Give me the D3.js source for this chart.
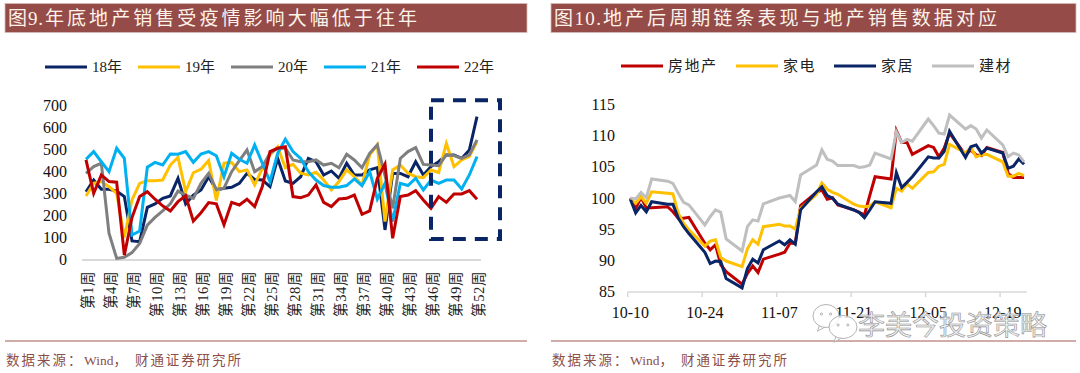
<!DOCTYPE html>
<html>
<head>
<meta charset="utf-8">
<script src="https://cdn.jsdelivr.net/npm/d3@7"></script>
<style>
  html, body { margin: 0; padding: 0; background: #fff; }
  svg { display: block; }
  text { font-family: "Liberation Serif", "Noto Sans CJK SC", serif; }
</style>
</head>
<body>
<svg id="chart" width="1080" height="373"></svg>
<script>
// left panel: weekly sales
const weeks = d3.range(1, 53);
const weekTicks = d3.range(1, 53, 3);
const salesTicks = [0, 100, 200, 300, 400, 500, 600, 700];
const y18 = [307,360,318,318,310,285,84,81,236,252,277,288,368,252,292,315,375,315,323,327,345,390,363,360,330,458,356,345,375,458,443,383,401,368,436,383,383,406,416,134,390,390,375,443,383,421,443,474,474,458,496,647];
const y19 = [288,345,353,330,300,100,270,345,357,357,360,428,463,307,393,409,448,267,436,439,398,406,338,413,473,511,416,431,391,383,395,360,315,353,406,375,338,474,519,172,406,428,391,375,371,406,394,526,421,451,466,534];
const y20 = [390,421,436,119,5,10,31,73,156,191,220,252,310,292,277,345,390,318,323,398,448,496,398,421,481,504,505,451,443,443,451,428,436,416,477,451,416,481,519,380,232,458,489,507,431,428,425,474,471,458,474,542];
const y21 = [454,489,443,398,504,458,111,129,418,440,428,478,477,489,440,478,489,470,375,481,454,436,519,436,353,481,545,489,458,398,360,335,327,327,335,365,335,398,274,345,172,345,335,368,315,360,345,360,360,320,383,466];
const y22 = [451,300,383,353,350,20,190,285,307,273,243,220,262,289,174,212,258,252,157,259,247,273,240,330,489,504,511,285,280,292,338,259,240,274,277,292,205,220,368,433,96,285,292,312,270,232,285,259,297,297,312,273];
const salesNames = ['18年', '19年', '20年', '21年', '22年'];
const salesColors = ['#0a2566', '#ffc000', '#7f7f7f', '#00b0f0', '#c00000'];
const boxWeeks = [46, 55];
const boxValues = [93, 722];

// right panel: index by trading day
const tradeDays = ['10-10','10-11','10-12','10-13','10-14','10-17','10-18','10-19','10-20','10-21','10-24','10-25','10-26','10-27','10-28','10-31','11-01','11-02','11-03','11-04','11-07','11-08','11-09','11-10','11-11','11-14','11-15','11-16','11-17','11-18','11-21','11-22','11-23','11-24','11-25','11-28','11-29','11-30','12-01','12-02','12-05','12-06','12-07','12-08','12-09','12-12','12-13','12-14','12-15','12-16','12-19','12-20','12-21','12-22','12-23'];
const dayTicks = ['10-10', '10-24', '11-07', '11-21', '12-05', '12-19'];
const indexTicks = [85, 90, 95, 100, 105, 110, 115];
const house = [100,98.35,100.1,98.45,98.45,98.6,97.8,96.75,96.75,96.9,92.75,91.7,92.5,89.3,88.2,86.2,87.9,89.1,88.05,90.2,91,91.3,92.75,92.75,98.8,100.9,101.3,99.8,100.05,98.9,98.1,97.7,97.3,100.4,103.4,103.05,110.8,108.9,108.9,107,108.4,108.1,106.6,108,110.4,106.9,107.7,106.9,106.8,108.1,107.3,103.95,103.3,103.3,103.3];
const appliance = [99.85,99.15,100.2,99.15,101,100.75,100.65,97.55,95.95,94.9,92.3,93.1,93.3,90.45,89.9,89,91.85,93.3,92.6,95.4,95.8,95.5,95.5,95,98.35,100.6,102.4,101.4,100.9,100.6,99,98.7,98.6,98.7,99.4,98.45,101.55,101.1,102.25,101.55,104.1,104.2,105.1,105.4,108.6,107.25,108.05,106.6,106.9,107,105.8,103.5,103.5,103.95,103.6];
const furniture = [99.8,97.6,98.8,97.8,99.4,99,99,96.8,95.4,94.3,91.3,89.5,89.9,89.8,87.1,85.6,88.7,90.2,89.6,91.7,93.1,92.5,93.3,92.6,98.1,101,101.8,100.4,99.95,99,98.08,97.7,96.85,98.08,99.4,99.15,104.06,101.66,102.5,103.4,106.6,106.4,106.4,107.5,110.7,106.5,108.2,108.5,107.2,108,107.2,104.75,105.1,106.25,105.4];
const material = [100,99.85,100.9,100.05,103.05,102.7,102.35,100.75,99.3,98.9,95.7,97,98.1,97.7,93.45,91.5,95.4,96.5,96.3,99.05,100,100.2,100.4,99.4,103.7,105.3,107.7,106.2,105.9,105.2,105.2,104.9,105,105.3,107.2,106.25,110.6,108.9,109.4,109.1,112.65,111.6,110.4,110.25,113.3,111.05,111.6,111.05,109.6,110.9,108.5,106.6,107.2,106.9,105.8];
const indexNames = ['房地产', '家电', '家居', '建材'];
const indexColors = ['#c00000', '#ffc000', '#0a2566', '#bfbfbf'];

const svg = d3.select('#chart');
const BAR = '#954b47';
const RULE = '#a65a55';
const SOURCE = '#8c4f4a';

// head = [text, x, width] for the "图N." part, body likewise for the rest of the title
const frame = (x0, x1, head, body) => {
  svg.append('rect').attr('x', x0).attr('y', 3.5).attr('width', x1 - x0).attr('height', 29)
    .attr('fill', BAR).attr('stroke', '#d9b8b5').attr('stroke-width', 0.8);
  [head, body].forEach(t => {
    svg.append('text').attr('x', t[1]).attr('y', 25).attr('fill', '#fdf3ea')
      .attr('font-size', 19).attr('textLength', t[2]).attr('lengthAdjust', 'spacing').text(t[0]);
  });
  svg.append('line').attr('x1', x0).attr('x2', x1).attr('y1', 341).attr('y2', 341)
    .attr('stroke', RULE).attr('stroke-width', 1.2);
  [['数据来源：', 1, '2px'], ['Wind，', 79, '0'], ['财通证券研究所', 130, '1.9px']].forEach(t => {
    svg.append('text').attr('x', x0 + t[1]).attr('y', 365).attr('fill', SOURCE)
      .attr('font-size', 13.5).style('letter-spacing', t[2]).text(t[0]);
  });
};

const legend = (items, colors, startXs, lineY, spacing) => {
  items.forEach((name, i) => {
    svg.append('line').attr('x1', startXs[i]).attr('x2', startXs[i] + 42)
      .attr('y1', lineY).attr('y2', lineY).attr('stroke', colors[i]).attr('stroke-width', 3);
    svg.append('text').attr('x', startXs[i] + 47).attr('y', lineY + 5).attr('fill', '#222')
      .attr('font-size', 15).style('letter-spacing', spacing).text(name);
  });
};

const cleanAxis = g => {
  g.select('.domain').remove();
  g.selectAll('text').attr('fill', '#111').attr('font-size', 16);
};

frame(5, 527, ['图9.', 8, 35], ['年底地产销售受疫情影响大幅低于往年', 45, 372]);
frame(551, 1076, ['图10.', 554, 47], ['地产后周期链条表现与地产销售数据对应', 603, 394]);

// ---- left
const xL = d3.scaleLinear().domain([1, 52]).range([86, 477]);
const yL = d3.scaleLinear().domain([0, 700]).range([259.5, 105]);

svg.append('g').attr('transform', 'translate(82,0)')
  .call(d3.axisLeft(yL).tickValues(salesTicks).tickSize(0).tickPadding(15))
  .call(cleanAxis);

svg.append('line').attr('x1', 82).attr('x2', 481).attr('y1', yL(0) + 0.5).attr('y2', yL(0) + 0.5)
  .attr('stroke', '#d9d9d9').attr('stroke-width', 2);

svg.append('g').attr('transform', `translate(0,${yL(0)})`)
  .call(d3.axisBottom(xL).tickValues(weekTicks).tickFormat(d => `第${d}周`).tickSize(0))
  .call(g => g.select('.domain').remove())
  .selectAll('text')
  .attr('transform', 'rotate(-90)')
  .attr('text-anchor', 'end')
  .attr('x', -11.5)
  .attr('y', 1)
  .attr('dy', '.35em')
  .attr('fill', '#222')
  .attr('font-size', 14.5)
  .style('letter-spacing', '0.6px');

const lineL = d3.line().x((d, i) => xL(weeks[i])).y(d => yL(d));
[y18, y19, y20, y21, y22].forEach((s, i) => {
  svg.append('path').datum(s).attr('d', lineL).attr('fill', 'none')
    .attr('stroke', salesColors[i]).attr('stroke-width', 3).attr('stroke-linejoin', 'miter');
});

svg.append('rect')
  .attr('x', xL(boxWeeks[0])).attr('y', yL(boxValues[1]))
  .attr('width', xL(boxWeeks[1]) - xL(boxWeeks[0]))
  .attr('height', yL(boxValues[0]) - yL(boxValues[1]))
  .attr('fill', 'none').attr('stroke', '#0a2566').attr('stroke-width', 4)
  .attr('stroke-dasharray', '13 9');

legend(salesNames, salesColors, [45, 138, 231, 324, 417], 67, '0');

// ---- right
const parseDay = d3.timeParse('%Y-%m-%d');
const fmtDay = d3.timeFormat('%m-%d');
const calendar = d3.timeDay.range(parseDay(`2022-${tradeDays[0]}`),
  d3.timeDay.offset(parseDay(`2022-${tradeDays[tradeDays.length - 1]}`), 1)).map(fmtDay);
const xR = d3.scaleBand().domain(calendar).range([627.7, 1026.7]);
const yR = d3.scaleLinear().domain([85, 115]).range([291.6, 104.4]);

svg.append('g').attr('transform', 'translate(622,0)')
  .call(d3.axisLeft(yR).tickValues(indexTicks).tickSize(0).tickPadding(7))
  .call(cleanAxis);

svg.append('line').attr('x1', 627.7).attr('x2', 1026.7).attr('y1', 292).attr('y2', 292)
  .attr('stroke', '#d9d9d9').attr('stroke-width', 1.5);
svg.selectAll('line.dayTick').data(dayTicks).enter().append('line')
  .attr('class', 'dayTick')
  .attr('x1', d => xR(d)).attr('x2', d => xR(d))
  .attr('y1', 292).attr('y2', 297)
  .attr('stroke', '#d9d9d9').attr('stroke-width', 1.5);

svg.append('g').attr('transform', 'translate(0,292)')
  .call(d3.axisBottom(xR).tickValues(dayTicks).tickSize(0).tickPadding(14.7))
  .call(cleanAxis);

const lineR = d3.line().x((d, i) => xR(tradeDays[i]) + xR.bandwidth() / 2).y(d => yR(d));
[house, appliance, furniture, material].forEach((s, i) => {
  svg.append('path').datum(s).attr('d', lineR).attr('fill', 'none')
    .attr('stroke', indexColors[i]).attr('stroke-width', 3).attr('stroke-linejoin', 'miter');
});

legend(indexNames, indexColors, [621, 736, 834, 932], 66, '1.5px');

// ---- watermark
const bubble = (cx, cy, rx, ry) => {
  const g = svg.append('g').attr('fill', 'rgba(255,255,255,0.85)').attr('stroke', '#aaa').attr('stroke-width', 0.9);
  g.append('path').attr('d', `M${cx - rx * 0.5},${cy + ry * 0.8} l-2,6 l8,-4.5`);
  g.append('ellipse').attr('cx', cx).attr('cy', cy).attr('rx', rx).attr('ry', ry);
  [-0.35, 0.35].forEach(o => g.append('circle').attr('cx', cx + rx * o).attr('cy', cy - 2).attr('r', 1.1));
};
bubble(826, 316, 13, 11.5);
bubble(843, 327, 14, 11.5);
svg.append('text').attr('x', 858).attr('y', 335).attr('font-size', 27)
  .attr('fill', 'rgba(235,235,235,0.75)').attr('stroke', '#8f8f8f').attr('stroke-width', 0.6)
  .text('李美今投资策略');
</script>
</body>
</html>
